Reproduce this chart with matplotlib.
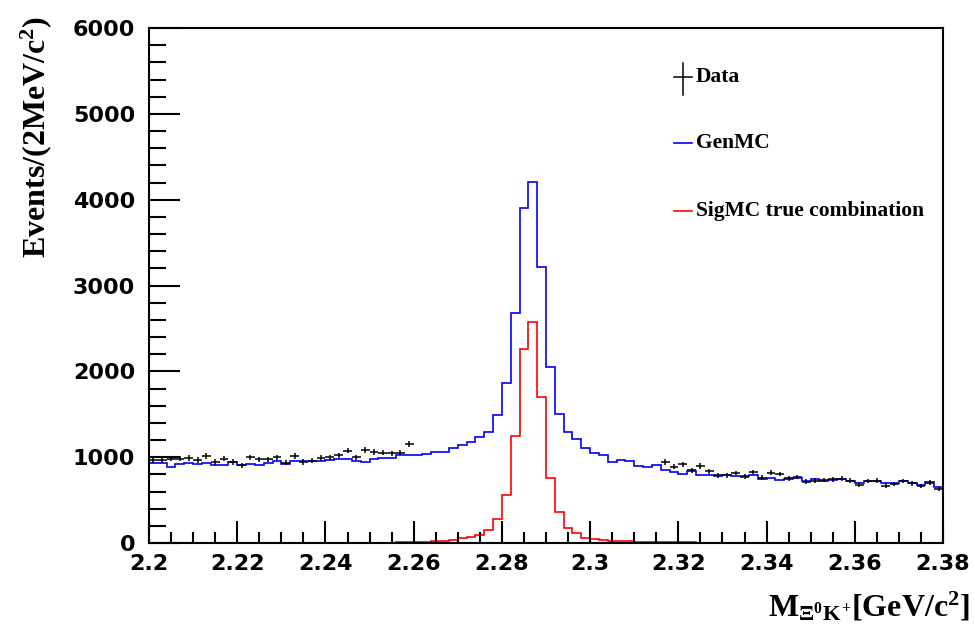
import numpy as np
import matplotlib
matplotlib.use("Agg")
import matplotlib.pyplot as plt
from matplotlib.ticker import MultipleLocator

plt.rcParams['mathtext.fontset'] = 'custom'
plt.rcParams['mathtext.rm'] = 'Liberation Serif:bold'
plt.rcParams['mathtext.it'] = 'Liberation Serif:bold'
plt.rcParams['mathtext.bf'] = 'Liberation Serif:bold'

# 90 bins of 2 MeV from 2.20 to 2.38
edges = np.round(np.arange(2.2, 2.3801, 0.002), 4)

genmc = [928, 928, 889, 921, 928, 921, 936, 905, 913, 944,
         905, 921, 905, 928, 959, 921, 951, 959, 951, 959,
         967, 975, 975, 959, 944, 982, 990, 990, 1029, 1021,
         1029, 1040, 1055, 1064, 1103, 1142, 1180, 1239, 1297, 1491,
         1860, 2676, 3899, 4209, 3212, 2047, 1499, 1297, 1208, 1110,
         1045, 1030, 947, 967, 960, 897, 889, 905, 850, 827,
         804, 842, 789, 796, 781, 789, 781, 781, 789, 749,
         757, 734, 749, 757, 726, 742, 718, 734, 742, 726,
         695, 726, 726, 703, 703, 726, 703, 676, 711, 649]

sigmc = [0, 0, 0, 0, 0, 0, 0, 0, 0, 0,
         0, 0, 0, 0, 0, 0, 0, 0, 0, 0,
         1, 1, 2, 2, 3, 3, 4, 5, 6, 8,
         10, 14, 19, 26, 35, 55, 73, 93, 151, 276,
         559, 1250, 2260, 2571, 1705, 753, 365, 171, 113, 62,
         43, 35, 28, 24, 20, 17, 14, 12, 10, 8,
         7, 6, 5, 4, 4, 3, 3, 2, 2, 2,
         1, 1, 1, 1, 1, 0, 0, 0, 0, 0,
         0, 0, 0, 0, 0, 0, 0, 0, 0, 0]

# data outside the blinded window (bins 0-29 and 58-89)
data_left = [967, 967, 982, 982, 990, 967, 1014, 944, 982, 944,
             905, 998, 975, 975, 998, 936, 1014, 944, 959, 990,
             998, 1021, 1076, 998, 1083, 1060, 1052, 1045, 1052, 1153]
data_right = [944, 889, 917, 850, 897, 835, 789, 789, 816, 773,
              827, 761, 819, 804, 754, 769, 714, 726, 734, 742,
              749, 726, 679, 722, 726, 668, 687, 722, 695, 664,
              703, 633]

centers = (edges[:-1] + edges[1:]) / 2
data_x = np.concatenate([centers[:30], centers[58:]])
data_y = np.array(data_left + data_right, dtype=float)

fig = plt.figure(figsize=(9.75, 6.37), dpi=100)
ax = fig.add_axes([149/975, 1-543/637, 794/975, 515/637])

ax.stairs(genmc, edges, color='#0000ff', lw=1.2, baseline=None)
ax.stairs(sigmc, edges, color='#ff0000', lw=1.2, baseline=None)
ax.errorbar(data_x, data_y, xerr=0.001, yerr=np.sqrt(data_y), fmt='none',
            ecolor='black', elinewidth=1.1, capsize=0)

ax.set_xlim(2.2, 2.38)
ax.set_ylim(0, 6000)

ax.xaxis.set_major_locator(MultipleLocator(0.02))
ax.xaxis.set_minor_locator(MultipleLocator(0.005))
ax.yaxis.set_major_locator(MultipleLocator(1000))
ax.yaxis.set_minor_locator(MultipleLocator(200))
ax.set_xticks(np.round(np.arange(2.2, 2.381, 0.02), 2))
ax.set_xticklabels(['2.2', '2.22', '2.24', '2.26', '2.28', '2.3', '2.32',
                    '2.34', '2.36', '2.38'])

ax.tick_params(axis='both', which='both', direction='in', width=1.5,
               right=False, top=False)
ax.tick_params(axis='x', which='major', length=16, pad=8)
ax.tick_params(axis='x', which='minor', length=8)
ax.tick_params(axis='y', which='major', length=22, pad=10)
ax.tick_params(axis='y', which='minor', length=12)
for lab in ax.get_xticklabels() + ax.get_yticklabels():
    lab.set_fontfamily('DejaVu Sans')
    lab.set_fontweight('bold')
    lab.set_fontsize(16)
for s in ax.spines.values():
    s.set_linewidth(1.5)

fig.text(0.037, 1-137/637, 'Events/(2MeV/c$^2$)', rotation=90, ha='center',
         va='center', family='Liberation Serif', weight='bold', fontsize=23)
fig.text(970/975, 1-607/637, r'M$_{\Xi^{0}K^{+}}$[GeV/c$^2$]', ha='right',
         va='center', family='Liberation Serif', weight='bold', fontsize=23)

# legend drawn by hand, ROOT style
def ax_xy(px, py):
    return (px - 149) / 794, (543 - py) / 515

x0, _ = ax_xy(674, 0)
x1, _ = ax_xy(692, 0)
xm, _ = ax_xy(683, 0)
xt, _ = ax_xy(696, 0)
_, yd = ax_xy(0, 77)
_, yd0 = ax_xy(0, 63)
_, yd1 = ax_xy(0, 95)
ax.plot([x0, x1], [yd, yd], color='black', lw=1.1, transform=ax.transAxes)
ax.plot([xm, xm], [yd0, yd1], color='black', lw=1.1, transform=ax.transAxes)
ax.text(xt, yd, 'Data', transform=ax.transAxes, va='center',
        family='Liberation Serif', weight='bold', fontsize=15.5)
_, yg = ax_xy(0, 143)
ax.plot([x0, x1], [yg, yg], color='#0000ff', lw=1.2, transform=ax.transAxes)
ax.text(xt, yg, 'GenMC', transform=ax.transAxes, va='center',
        family='Liberation Serif', weight='bold', fontsize=15.5)
_, ys = ax_xy(0, 211)
ax.plot([x0, x1], [ys, ys], color='#ff0000', lw=1.2, transform=ax.transAxes)
ax.text(xt, ys, 'SigMC true combination', transform=ax.transAxes, va='center',
        family='Liberation Serif', weight='bold', fontsize=15.5)

fig.savefig('out.png', dpi=100)
